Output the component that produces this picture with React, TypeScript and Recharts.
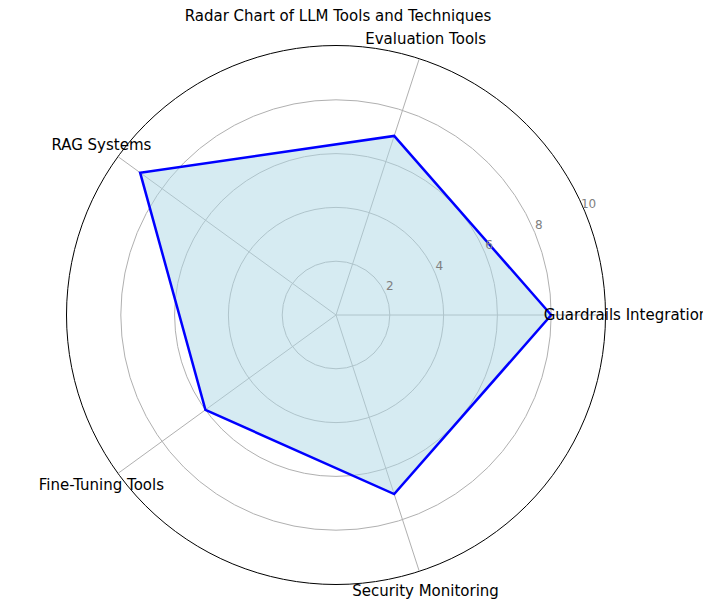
import { RadarChart, Radar, PolarGrid, PolarAngleAxis, PolarRadiusAxis } from 'recharts'

const categories = ['Fine-Tuning Tools', 'Security Monitoring', 'Guardrails Integration', 'Evaluation Tools', 'RAG Systems']
const scores = [8, 7, 9, 6, 7]
const radiusTicks = [2, 4, 6, 8, 10]

const CX = 336
const CY = 315
const R = 269
const font = 'DejaVu Sans, sans-serif'

const data = categories.map((c, i) => ({ name: c, value: scores[i] }))

function AngleTick(props: any) {
  const angle = (props.payload.coordinate * Math.PI) / 180
  const x = CX + 290 * Math.cos(angle)
  const y = CY - 290 * Math.sin(angle)
  return (
    <text x={x} y={y} textAnchor="middle" dominantBaseline="central" fontSize={15} fontFamily={font} fill="#000">
      {props.payload.value}
    </text>
  )
}

function RadiusTick(props: any) {
  return (
    <text x={props.x + 4} y={props.y - 8} textAnchor="middle" dominantBaseline="central" fontSize={12} fontFamily={font} fill="#808080">
      {props.payload.value}
    </text>
  )
}

export default function App() {
  return (
    <div style={{ position: 'absolute', left: 0, top: 0, width: 703, height: 607, background: '#fff' }}>
      <div style={{ position: 'absolute', left: 0, top: 7, width: 676, textAlign: 'center', fontFamily: font, fontSize: 15 }}>
        Radar Chart of LLM Tools and Techniques
      </div>
      <div style={{ position: 'absolute', left: CX - R - 1, top: CY - R - 1, width: 2 * R, height: 2 * R, border: '1px solid #000', borderRadius: '50%' }} />
      <div style={{ position: 'absolute', left: 0, top: 0 }}>
        <RadarChart width={703} height={607} data={data} cx={CX} cy={CY} outerRadius={R} startAngle={-72} endAngle={288} margin={{ top: 0, right: 0, bottom: 0, left: 0 }}>
          <PolarGrid gridType="circle" stroke="#b0b0b0" polarRadius={[R * 0.2, R * 0.4, R * 0.6, R * 0.8]} />
          <PolarAngleAxis dataKey="name" tick={AngleTick} tickLine={false} axisLine={false} />
          <PolarRadiusAxis angle={22.5} domain={[0, 10]} ticks={radiusTicks} tick={RadiusTick} axisLine={false} tickLine={false} />
          <Radar dataKey="value" stroke="#0000ff" strokeWidth={2.5} fill="#add8e6" fillOpacity={0.5} isAnimationActive={false} />
        </RadarChart>
      </div>
    </div>
  )
}
